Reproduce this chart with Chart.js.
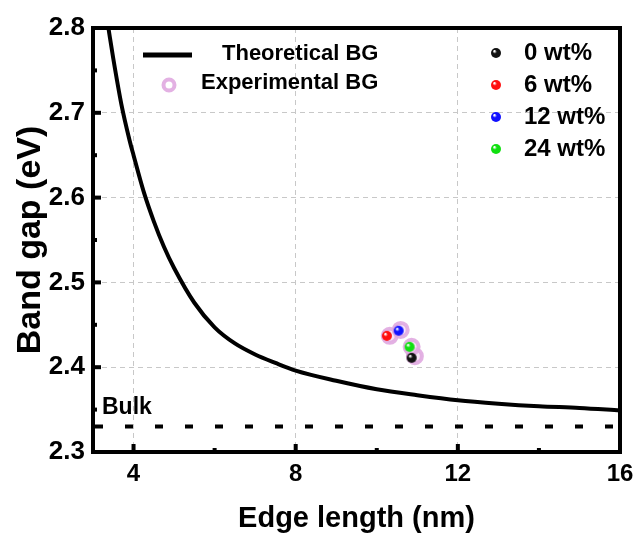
<!DOCTYPE html>
<html>
<head>
<meta charset="utf-8">
<script src="https://cdn.jsdelivr.net/npm/chart.js@4.4.1/dist/chart.umd.min.js"></script>
<style>
  html, body { margin: 0; padding: 0; background: #fff; }
</style>
</head>
<body>
<canvas id="bgChart" width="637" height="536"></canvas>
<script>
// theoretical band gap vs edge length
const curveEdge = [3.38, 3.5, 3.7, 3.9, 4.0, 4.25, 4.5, 4.75, 5.0, 5.5, 6.0, 6.5, 7.0, 7.5, 8.0, 9.0, 10.0, 11.0, 12.0, 13.0, 14.0, 15.0, 16.0];
const curveGap = [2.80, 2.764, 2.71, 2.668, 2.65, 2.607, 2.572, 2.542, 2.517, 2.476, 2.447, 2.428, 2.415, 2.405, 2.396, 2.384, 2.374, 2.367, 2.361, 2.357, 2.354, 2.352, 2.349];

// bulk band gap
const bulkEdge = [3, 16];
const bulkGap = 2.33;

// samples
const sampleLabels = ['0 wt%', '6 wt%', '12 wt%', '24 wt%'];
const sampleColors = ['#111111', '#ff1010', '#1010ff', '#10e010'];
const sampleEdge = [10.86, 10.25, 10.54, 10.81];
const sampleGap = [2.411, 2.437, 2.443, 2.424];
const expEdge = [10.94, 10.32, 10.59, 10.86];
const expGap = [2.413, 2.437, 2.444, 2.424];

const xTicks = [4, 8, 12, 16];
const xMinor = [6, 10, 14];
const yTicks = [2.3, 2.4, 2.5, 2.6, 2.7, 2.8];
const yMinor = [2.35, 2.45, 2.55, 2.65, 2.75];

const FONT = 'Liberation Sans, Arial, sans-serif';
const PINK = 'rgba(224,168,224,0.9)';

Chart.defaults.font.family = FONT;
Chart.defaults.color = '#000';

// small shaded ball used as marker
function makeSphere(color, r) {
  const c = document.createElement('canvas');
  c.width = c.height = r * 2 + 2;
  const g = c.getContext('2d');
  const cx = r + 1, cy = r + 1;
  const grad = g.createRadialGradient(cx - r * 0.35, cy - r * 0.4, r * 0.1, cx, cy, r);
  grad.addColorStop(0, '#ffffff');
  grad.addColorStop(0.35, color);
  grad.addColorStop(1, color);
  g.fillStyle = grad;
  g.beginPath();
  g.arc(cx, cy, r, 0, Math.PI * 2);
  g.fill();
  return c;
}
const spheres = sampleColors.map(c => makeSphere(c, 5));

const frameAndLegend = {
  id: 'frameAndLegend',
  afterDraw(chart) {
    const ctx = chart.ctx;
    const a = chart.chartArea;
    const xs = chart.scales.x, ys = chart.scales.y;
    ctx.save();
    // frame
    ctx.strokeStyle = '#000';
    ctx.lineWidth = 4;
    ctx.strokeRect(a.left, a.top, a.right - a.left, a.bottom - a.top);
    // inward ticks
    ctx.fillStyle = '#000';
    xTicks.forEach(v => { const p = xs.getPixelForValue(v); ctx.fillRect(p - 2, a.bottom - 8, 4, 8); });
    xMinor.forEach(v => { const p = xs.getPixelForValue(v); ctx.fillRect(p - 2, a.bottom - 4, 4, 4); });
    yTicks.forEach(v => { const p = ys.getPixelForValue(v); ctx.fillRect(a.left, p - 2, 8, 4); });
    yMinor.forEach(v => { const p = ys.getPixelForValue(v); ctx.fillRect(a.left, p - 2, 4, 4); });

    // left legend
    ctx.textBaseline = 'middle';
    ctx.textAlign = 'left';
    ctx.font = 'bold 22px ' + FONT;
    ctx.lineWidth = 5;
    ctx.beginPath();
    ctx.moveTo(143, 55);
    ctx.lineTo(192, 55);
    ctx.stroke();
    ctx.fillText('Theoretical BG', 222, 54);
    ctx.strokeStyle = PINK;
    ctx.lineWidth = 4;
    ctx.beginPath();
    ctx.arc(169, 85, 5.5, 0, Math.PI * 2);
    ctx.stroke();
    ctx.fillText('Experimental BG', 201, 83);

    // right legend
    ctx.font = 'bold 24px ' + FONT;
    sampleLabels.forEach((lab, i) => {
      const y = 53 + i * 32;
      ctx.drawImage(spheres[i], 496 - spheres[i].width / 2, y - spheres[i].height / 2);
      ctx.fillText(lab, 524, y);
    });

    // bulk label
    ctx.font = 'bold 23px ' + FONT;
    ctx.fillText('Bulk', 102, 408);
    ctx.restore();
  }
};

const ctx = document.getElementById('bgChart');
new Chart(ctx, {
  type: 'scatter',
  data: {
    datasets: [
      ...sampleLabels.map((lab, i) => ({
        label: lab,
        data: [{ x: sampleEdge[i], y: sampleGap[i] }],
        pointStyle: spheres[i],
        pointRadius: 5,
        order: 0
      })),
      {
        label: 'Experimental BG',
        data: expEdge.map((x, i) => ({ x: x, y: expGap[i] })),
        pointStyle: 'circle',
        pointRadius: 7,
        borderWidth: 4,
        borderColor: PINK,
        backgroundColor: 'rgba(240,212,240,0.6)',
        order: 1
      },
      {
        label: 'Theoretical BG',
        type: 'line',
        data: curveEdge.map((x, i) => ({ x: x, y: curveGap[i] })),
        borderColor: '#000',
        borderWidth: 4,
        pointRadius: 0,
        cubicInterpolationMode: 'monotone',
        fill: false,
        order: 2
      },
      {
        label: 'Bulk',
        type: 'line',
        data: bulkEdge.map(x => ({ x: x, y: bulkGap })),
        borderColor: '#000',
        borderWidth: 4,
        borderDash: [8, 22],
        borderDashOffset: -2,
        borderCapStyle: 'butt',
        pointRadius: 0,
        fill: false,
        order: 3
      }
    ]
  },
  options: {
    responsive: false,
    animation: false,
    layout: { padding: { top: 28, right: 17, left: 0, bottom: 0 } },
    plugins: {
      legend: { display: false },
      tooltip: { enabled: false }
    },
    scales: {
      x: {
        type: 'linear',
        min: 3,
        max: 16,
        afterBuildTicks: s => { s.ticks = xTicks.map(v => ({ value: v })); },
        afterFit: s => { s.height = 84; s.paddingRight = 0; s.paddingLeft = 0; },
        grid: { color: '#c8c8c8', lineWidth: 1, drawTicks: false },
        border: { display: false, dash: [5, 4] },
        ticks: { padding: 8, font: { size: 24, weight: 'bold' }, color: '#000' },
        title: {
          display: true,
          text: 'Edge length (nm)',
          font: { size: 29, weight: 'bold' },
          color: '#000',
          padding: { top: 0, bottom: 0 }
        }
      },
      y: {
        type: 'linear',
        min: 2.3,
        max: 2.8,
        afterBuildTicks: s => { s.ticks = yTicks.map(v => ({ value: v })); },
        afterFit: s => { s.width = 93; s.paddingTop = 0; s.paddingBottom = 0; },
        grid: { color: '#c8c8c8', lineWidth: 1, drawTicks: false },
        border: { display: false, dash: [5, 4] },
        ticks: {
          padding: 8,
          font: { size: 26, weight: 'bold' },
          color: '#000',
          callback: v => Number(v).toFixed(1)
        },
        title: {
          display: true,
          text: 'Band gap (eV)',
          font: { size: 34, weight: 'bold' },
          color: '#000',
          padding: { top: 10, bottom: 0 }
        }
      }
    }
  },
  plugins: [frameAndLegend]
});
</script>
</body>
</html>
